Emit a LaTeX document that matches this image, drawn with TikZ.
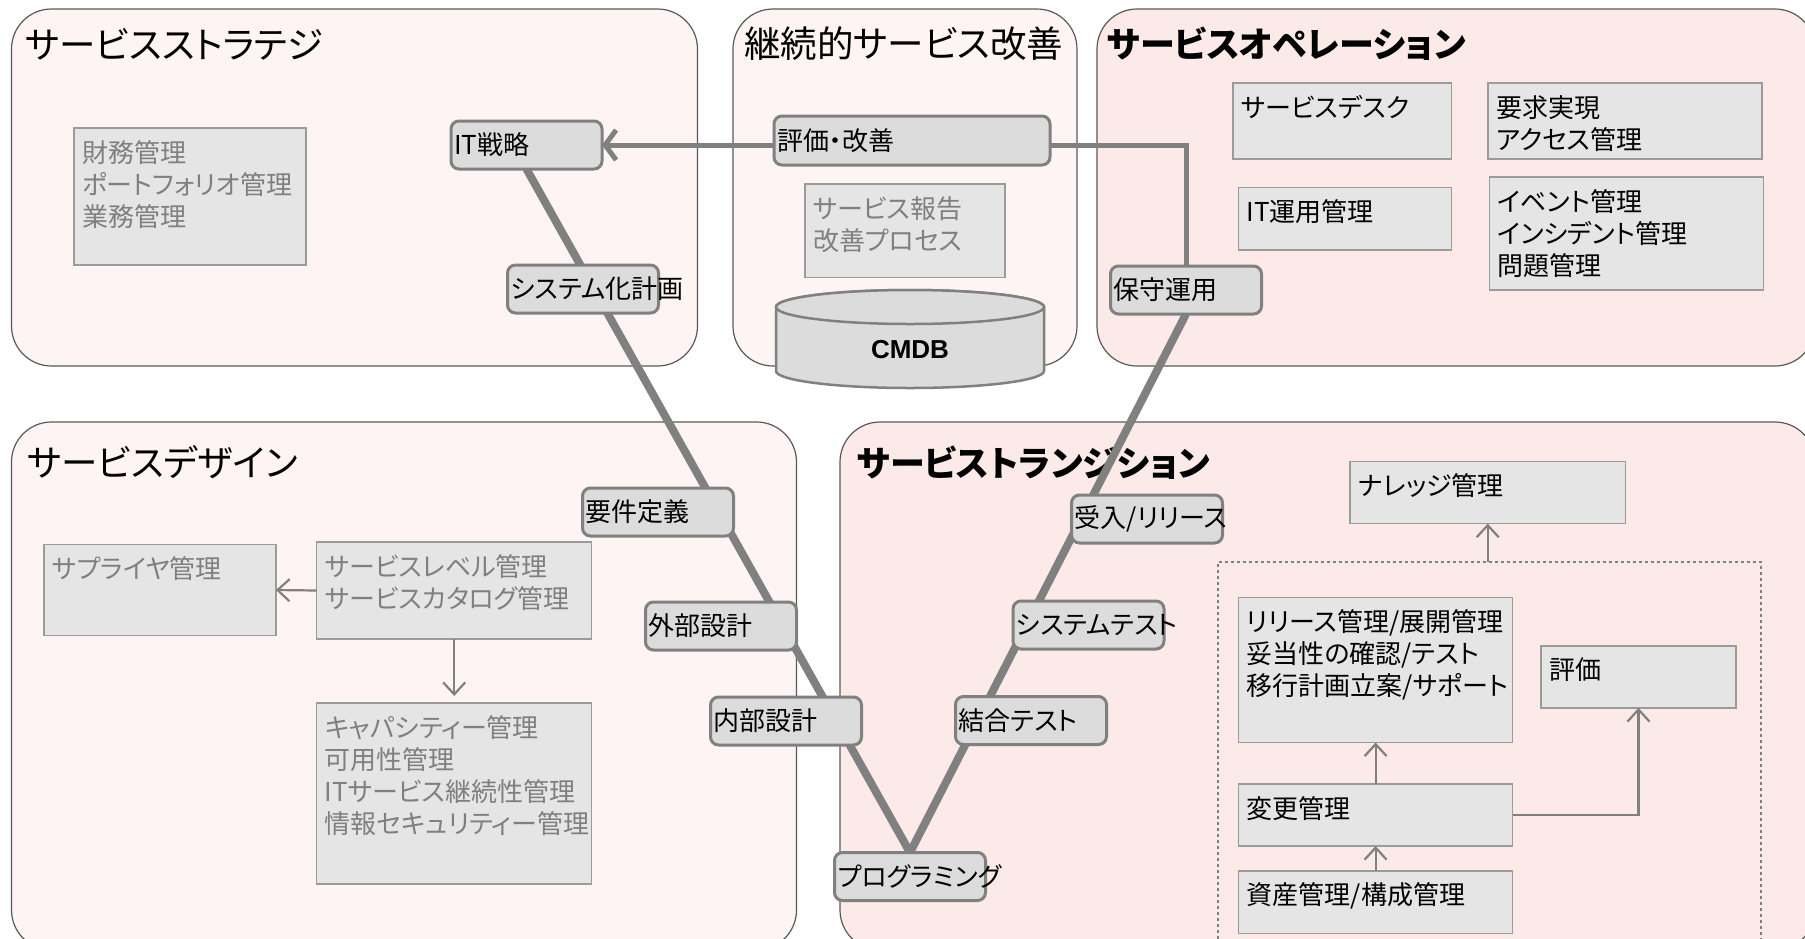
\documentclass[tikz,border=0pt]{standalone}
\usepackage{fontspec}
\setmainfont{Noto Sans CJK JP}[RawFeature=+palt]
\newfontfamily\cmdbfont{Liberation Sans}
\usetikzlibrary{arrows.meta}
\pgfdeclarelayer{bg}\pgfdeclarelayer{mid}\pgfsetlayers{bg,mid,main}
\definecolor{panelA}{HTML}{FDF4F3}
\definecolor{panelB}{HTML}{FBEAE8}
\definecolor{panelline}{HTML}{595959}
\definecolor{vfill}{HTML}{DCDCDC}
\definecolor{vline}{HTML}{808080}
\definecolor{gfill}{HTML}{E5E5E5}
\definecolor{gline}{HTML}{9B9B9B}
\definecolor{gtext}{HTML}{7F7F7F}
\tikzset{
  panel/.style={draw=panelline, line width=1.2pt, rounded corners=40pt},
  ptitle/.style={anchor=west, inner sep=0pt, font=\fontsize{36.5}{42}\selectfont},
  vlab/.style={anchor=west, inner sep=0pt, xshift=3pt, font=\fontsize{26}{31}\selectfont},
  vnode/.style={draw=vline, fill=vfill, line width=3pt, rounded corners=8pt,
    minimum width=151pt, minimum height=48pt, inner sep=0pt, outer sep=0pt,
    label={[vlab]west:{#1}}},
  glab/.style={anchor=north west, align=left, inner sep=0pt, xshift=8pt, yshift=-12pt,
    font=\fontsize{26}{32}\selectfont, text=gtext},
  klab/.style={glab, text=black},
  gbox/.style n args={3}{draw=gline, fill=gfill, line width=1.5pt,
    minimum width=#1, minimum height=#2, inner sep=0pt, outer sep=0pt,
    label={[glab]north west:{#3}}},
  kbox/.style n args={3}{draw=gline, fill=gfill, line width=1.5pt,
    minimum width=#1, minimum height=#2, inner sep=0pt, outer sep=0pt,
    label={[klab]north west:{#3}}},
  vpath/.style={draw=vline, line width=8pt, line join=miter},
  toparrow/.style={draw=vline, line width=5pt, -{Straight Barb[length=11pt, width=30pt]}},
  thinarrow/.style={draw=vline, line width=2.2pt, -{Straight Barb[length=12pt, width=22pt]}},
  cyl/.style={draw=vline, fill=vfill, line width=2.5pt}
}
\begin{document}
\begin{tikzpicture}[x=1pt,y=-1pt]
\useasboundingbox (0,0) rectangle (1805,938);
\begin{pgfonlayer}{bg}
\draw[panel, fill=panelA] (11.5,9) rectangle (697.5,366);
\draw[panel, fill=panelA] (733,9) rectangle (1077,366);
\draw[panel, fill=panelB] (1097,9) rectangle (1815,366);
\draw[panel, fill=panelA] (11.5,422) rectangle (796.5,950);
\draw[panel, fill=panelB] (840,422) rectangle (1815,950);
\node[ptitle] (t1) at (25,44) {サービスストラテジ};
\node[ptitle] (t2) at (744,44) {継続的サービス改善};
\node[ptitle, font=\fontsize{35}{40}\selectfont\bfseries] (t3) at (1107,44) {サービスオペレーション};
\node[ptitle] (t4) at (27,462) {サービスデザイン};
\node[ptitle, font=\fontsize{35}{40}\selectfont\bfseries] (t5) at (857,463) {サービストランジション};
\node[draw=vline, dashed, line width=1.2pt, minimum width=543pt, minimum height=388pt,
  inner sep=0pt, outer sep=0pt] (dash) at (1489.5,756) {};
\end{pgfonlayer}

% V-model nodes
\node[vnode={IT戦略}] (itsen) at (526.5,145) {};
\node[vnode={評価・改善}, minimum width=276pt, minimum height=49pt] (hyoka) at (912,140.5) {};
\node[vnode={システム化計画}] (keikaku) at (583,289) {};
\node[vnode={保守運用}] (hoshu) at (1186,290) {};
\node[vnode={要件定義}] (yoken) at (658,512) {};
\node[vnode={受入/リリース}] (ukeire) at (1147,519) {};
\node[vnode={外部設計}] (gaibu) at (721,626) {};
\node[vnode={システムテスト}] (systest) at (1088.5,625) {};
\node[vnode={内部設計}] (naibu) at (786,721) {};
\node[vnode={結合テスト}] (ketsugo) at (1031,720.5) {};
\node[vnode={プログラミング}] (prog) at (910,876.5) {};

% CMDB cylinder
\filldraw[cyl] (776,307) -- (776,371) arc[start angle=180, end angle=360, x radius=134pt, y radius=17pt]
  -- (1044,307) arc[start angle=0, end angle=180, x radius=134pt, y radius=17pt] -- cycle;
\filldraw[cyl] (910,307) ellipse[x radius=134pt, y radius=17pt];
\node[font=\cmdbfont\fontsize{26}{30}\selectfont\bfseries] (cmdb) at (910,350) {CMDB};

% content boxes
\node[gbox={232}{137}{財務管理\\ポートフォリオ管理\\業務管理}] (zaimu) at (189.9,196.5) {};
\node[gbox={200}{93.5}{サービス報告\\改善プロセス}] (houkoku) at (904.8,230.8) {};
\node[kbox={218.5}{76}{サービスデスク}] (desk) at (1342.3,121) {};
\node[kbox={274}{76}{要求実現\\アクセス管理}] (yokyu) at (1625,121) {};
\node[kbox={213}{62.4}{IT運用管理}] (unyo) at (1345,218.8) {};
\node[kbox={274}{113}{イベント管理\\インシデント管理\\問題管理}] (event) at (1626.5,233.5) {};
\node[gbox={232}{91}{サプライヤ管理}] (sup) at (159.9,590) {};
\node[gbox={275}{97}{サービスレベル管理\\サービスカタログ管理}] (slv) at (454.2,590.5) {};
\node[gbox={275}{181}{キャパシティー管理\\可用性管理\\ITサービス継続性管理\\情報セキュリティー管理}] (cap) at (454.2,793.5) {};
\node[kbox={275.4}{62}{ナレッジ管理}] (know) at (1487.7,492.6) {};
\node[kbox={274}{145}{リリース管理/展開管理\\妥当性の確認/テスト\\移行計画立案/サポート}] (rel) at (1375.6,670) {};
\node[kbox={195}{62}{評価}] (eval) at (1638.5,676.9) {};
\node[kbox={274}{62}{変更管理}] (chg) at (1375.6,815) {};
\node[kbox={274}{62.5}{資産管理/構成管理}] (asset) at (1375.6,902) {};

\begin{pgfonlayer}{mid}
\draw[vpath] (itsen.south) -- (prog.north) -- (hoshu.south);
\draw[toparrow] (hoshu.north) |- (itsen.east);
\end{pgfonlayer}

\draw[thinarrow] (slv.west) -- (sup.east);
\draw[thinarrow, shorten >=7pt] (slv.south) -- (cap.north);
\draw[thinarrow] (know.south |- dash.north) -- (know.south);
\draw[thinarrow] (chg.north) -- (rel.south);
\draw[thinarrow] (asset.north) -- (chg.south);
\draw[thinarrow] (chg.east) -| (eval.south);
\end{tikzpicture}
\end{document}
